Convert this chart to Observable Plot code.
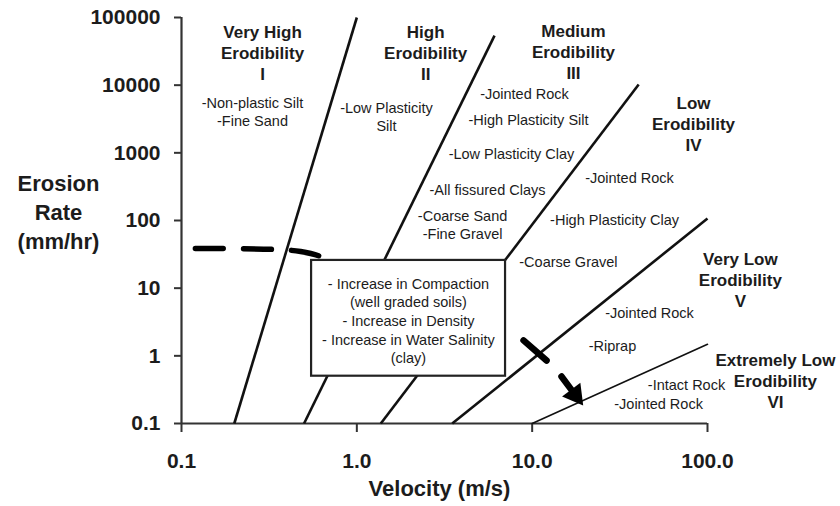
<!DOCTYPE html>
<html><head><meta charset="utf-8">
<script src="https://cdn.jsdelivr.net/npm/d3@7"></script>
<script src="https://cdn.jsdelivr.net/npm/@observablehq/plot@0.6"></script>
<style>body{margin:0;background:#fff;} #chart svg{display:block}</style>
</head><body><div id="chart"></div><script>
// ---- axes ----
const xTicks = [0.1, 1, 10, 100];
const xTickLabels = ["0.1", "1.0", "10.0", "100.0"];
const yTicks = [0.1, 1, 10, 100, 1000, 10000, 100000];
const yTickLabels = ["0.1", "1", "10", "100", "1000", "10000", "100000"];
const xTitle = "Velocity (m/s)";
const yTitle = "Erosion\nRate\n(mm/hr)";

// ---- category boundary lines (velocity m/s, erosion rate mm/hr) ----
const boundaryV0 = [0.2, 0.5, 1.37, 3.5];
const boundaryR0 = [0.1, 0.1, 0.1, 0.1];
const boundaryV1 = [1.0, 6.1, 40.5, 100];
const boundaryR1 = [100000, 54000, 10200, 107];
const lastBoundaryV = [10, 100];
const lastBoundaryR = [0.1, 1.48];

// ---- zone titles ----
const zoneLabels = ["Very High\nErodibility\nI", "High\nErodibility\nII", "Medium\nErodibility\nIII",
  "Low\nErodibility\nIV", "Very Low\nErodibility\nV", "Extremely Low\nErodibility\nVI"];
const zoneV = [0.29, 2.47, 17.2, 83.2, 154, 244];
const zoneR = [30400, 30400, 31500, 2716, 13.4, 0.432];

// ---- material labels ----
const materialLabels = ["-Non-plastic Silt\n-Fine Sand", "-Low Plasticity\nSilt", "-Jointed Rock",
  "-High Plasticity Silt", "-Low Plasticity Clay", "-All fissured Clays", "-Coarse Sand\n-Fine Gravel",
  "-Coarse Gravel", "-Jointed Rock", "-High Plasticity Clay", "-Jointed Rock", "-Riprap",
  "-Intact Rock", "-Jointed Rock"];
const materialV = [0.254, 1.476, 9.04, 9.53, 7.62, 5.56, 4.01, 16.1, 35.9, 29.5, 46.7, 28.7, 75.9, 52.6];
const materialR = [4083, 3443, 7534, 3110, 977, 287, 87.3, 24.8, 432, 103.5, 4.37, 1.42, 0.377, 0.198];

// ---- trend (dashed path, cross segment, arrow) ----
const trendV = [0.120, 0.344, 0.478, 0.621, 0.921];
const trendR = [38.6, 37.3, 34.8, 29.4, 17.1];
const crossV = [8.93, 12.08];
const crossR = [1.69, 0.853];
const arrowV = [14.7, 17.6];
const arrowR = [0.495, 0.265];

// ---- note box ----
const boxV = [0.552, 7.05];
const boxR = [0.50, 25.7];
const boxText = "- Increase in Compaction\n(well graded soils)\n- Increase in Density\n- Increase in Water Salinity\n(clay)";
const boxTextV = [1.97];
const boxTextR = [3.39];

const boundaries = boundaryV0.map((v, i) => ({v0: v, r0: boundaryR0[i], v1: boundaryV1[i], r1: boundaryR1[i]}));
const trend = trendV.map((v, i) => ({v, r: trendR[i]}));
const cross = crossV.map((v, i) => ({v, r: crossR[i]}));
const arrowShaft = arrowV.map((v, i) => ({v, r: arrowR[i]}));
const zones = zoneLabels.map((t, i) => ({t, v: zoneV[i], r: zoneR[i]}));
const materials = materialLabels.map((t, i) => ({t, v: materialV[i], r: materialR[i]}));

const ink = "#1c1c1c";
const font = "'Liberation Sans', Arial, Helvetica, sans-serif";

const chart = Plot.plot({
  width: 840, height: 506,
  marginLeft: 181, marginRight: 133, marginTop: 17, marginBottom: 83,
  style: {fontFamily: font, color: ink, background: "#fff"},
  x: {type: "log", domain: [0.1, 100]},
  y: {type: "log", domain: [0.1, 100000]},
  marks: [
    Plot.axisX({ticks: xTicks, tickFormat: d => xTickLabels[xTicks.indexOf(d)], tickSize: 9, tickPadding: 21,
      fontSize: 21, fontWeight: "bold", label: null, stroke: "#333", strokeWidth: 2}),
    Plot.axisY({ticks: yTicks, tickFormat: d => yTickLabels[yTicks.indexOf(d)], tickSize: 7, tickPadding: 14,
      fontSize: 21, fontWeight: "bold", label: null, stroke: "#333", strokeWidth: 2}),
    Plot.ruleX([0.1], {stroke: "#333", strokeWidth: 2.2}),
    Plot.ruleY([0.1], {stroke: "#333", strokeWidth: 2.2}),
    Plot.link(boundaries, {x1: "v0", y1: "r0", x2: "v1", y2: "r1", stroke: "#111", strokeWidth: 2.6}),
    Plot.line(lastBoundaryV.map((v, i) => ({v, r: lastBoundaryR[i]})), {x: "v", y: "r", stroke: "#111", strokeWidth: 1.6}),
    Plot.line(trend, {x: "v", y: "r", stroke: "#000", strokeWidth: 5.5, strokeDasharray: "28,20", curve: "catmull-rom"}),
    Plot.rect([{}], {x1: () => boxV[0], x2: () => boxV[1], y1: () => boxR[0], y2: () => boxR[1],
      fill: "#fff", stroke: "#222", strokeWidth: 2.2}),
    Plot.text([boxText], {x: () => boxTextV[0], y: () => boxTextR[0], text: d => d, fontSize: 14.5,
      lineHeight: 1.29, fill: ink}),
    Plot.line(cross, {x: "v", y: "r", stroke: "#000", strokeWidth: 6.5}),
    Plot.line(arrowShaft, {x: "v", y: "r", stroke: "#000", strokeWidth: 6.5}),
    Plot.dot([arrowShaft[1]], {x: "v", y: "r", symbol: "triangle", r: 8.5, fill: "#000", rotate: 143}),
    Plot.text(zones, {x: "v", y: "r", text: "t", fontSize: 17, fontWeight: "bold", lineHeight: 1.24, fill: ink}),
    Plot.text(materials, {x: "v", y: "r", text: "t", fontSize: 14.5, lineHeight: 1.24, fill: ink}),
    Plot.text([yTitle], {frameAnchor: "left", textAnchor: "middle", lineAnchor: "middle", dx: -123, dy: -10,
      fontSize: 22, fontWeight: "bold", lineHeight: 1.32, fill: ink}),
    Plot.text([xTitle], {frameAnchor: "bottom", textAnchor: "middle", lineAnchor: "middle", dx: -5, dy: 65,
      fontSize: 22, fontWeight: "bold", fill: ink})
  ]
});
document.getElementById("chart").appendChild(chart);
</script></body></html>
